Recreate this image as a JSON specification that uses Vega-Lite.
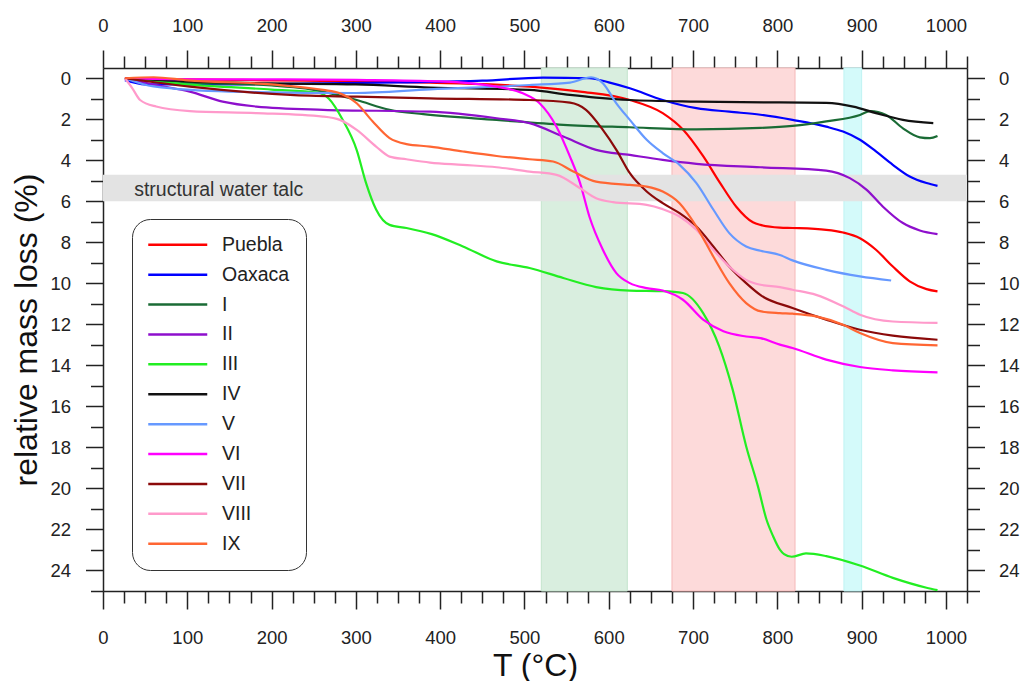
{
  "$schema": "https://vega.github.io/schema/vega-lite/v6.json",
  "width": 864,
  "height": 523,
  "autosize": {"type": "none"},
  "padding": {"left": 103, "top": 68, "right": 57, "bottom": 90},
  "background": "white",
  "config": {
    "view": {"stroke": null},
    "font": "Liberation Sans",
    "axis": {
      "domainColor": "#222", "domainWidth": 1.5, "tickColor": "#222", "tickWidth": 1.5,
      "labelFont": "Liberation Sans", "labelFontSize": 18.5, "labelColor": "#222",
      "grid": false, "zindex": 1, "labelFlush": false, "labelOverlap": false,
      "titleFont": "Liberation Sans", "titleFontWeight": "normal", "titleColor": "#111"
    }
  },
  "datasets": {
    "vbands": [
      {"band": "green", "start": 520, "end": 622},
      {"band": "red", "start": 675, "end": 821},
      {"band": "cyan", "start": 879, "end": 900}
    ],
    "hband": [{"band": "talc", "lo": 4.7, "hi": 6.0}],
    "note": [{"label": "structural water talc", "T": 37, "m": 5.72}],
    "tga": [
      {"s":"Puebla","T":26,"m":0},{"s":"Puebla","T":60,"m":0.05},{"s":"Puebla","T":100,"m":0.05},{"s":"Puebla","T":200,"m":0.1},{"s":"Puebla","T":300,"m":0.15},{"s":"Puebla","T":388,"m":0.22},{"s":"Puebla","T":460,"m":0.3},{"s":"Puebla","T":506,"m":0.41},{"s":"Puebla","T":566,"m":0.65},{"s":"Puebla","T":625,"m":1.06},{"s":"Puebla","T":664,"m":1.7},{"s":"Puebla","T":688,"m":2.5},{"s":"Puebla","T":712,"m":3.8},{"s":"Puebla","T":732,"m":5.1},{"s":"Puebla","T":751,"m":6.25},{"s":"Puebla","T":771,"m":7.02},{"s":"Puebla","T":780,"m":7.15},{"s":"Puebla","T":803,"m":7.28},{"s":"Puebla","T":818,"m":7.3},{"s":"Puebla","T":858,"m":7.39},{"s":"Puebla","T":878,"m":7.52},{"s":"Puebla","T":898,"m":7.8},{"s":"Puebla","T":917,"m":8.36},{"s":"Puebla","T":937,"m":9.18},{"s":"Puebla","T":957,"m":9.9},{"s":"Puebla","T":977,"m":10.28},{"s":"Puebla","T":990,"m":10.39},
      {"s":"Oaxaca","T":26,"m":0.1},{"s":"Oaxaca","T":50,"m":0.3},{"s":"Oaxaca","T":150,"m":0.3},{"s":"Oaxaca","T":250,"m":0.25},{"s":"Oaxaca","T":350,"m":0.2},{"s":"Oaxaca","T":450,"m":0.12},{"s":"Oaxaca","T":522,"m":-0.03},{"s":"Oaxaca","T":577,"m":0.0},{"s":"Oaxaca","T":600,"m":0.2},{"s":"Oaxaca","T":625,"m":0.49},{"s":"Oaxaca","T":664,"m":1.06},{"s":"Oaxaca","T":704,"m":1.46},{"s":"Oaxaca","T":743,"m":1.63},{"s":"Oaxaca","T":780,"m":1.78},{"s":"Oaxaca","T":818,"m":2.03},{"s":"Oaxaca","T":858,"m":2.36},{"s":"Oaxaca","T":878,"m":2.6},{"s":"Oaxaca","T":898,"m":3.0},{"s":"Oaxaca","T":917,"m":3.57},{"s":"Oaxaca","T":937,"m":4.22},{"s":"Oaxaca","T":957,"m":4.79},{"s":"Oaxaca","T":977,"m":5.11},{"s":"Oaxaca","T":990,"m":5.25},
      {"s":"I","T":26,"m":0},{"s":"I","T":100,"m":0.2},{"s":"I","T":200,"m":0.35},{"s":"I","T":240,"m":0.5},{"s":"I","T":261,"m":0.65},{"s":"I","T":301,"m":1.06},{"s":"I","T":340,"m":1.54},{"s":"I","T":380,"m":1.75},{"s":"I","T":467,"m":2.03},{"s":"I","T":546,"m":2.27},{"s":"I","T":625,"m":2.39},{"s":"I","T":704,"m":2.49},{"s":"I","T":780,"m":2.42},{"s":"I","T":818,"m":2.32},{"s":"I","T":858,"m":2.1},{"s":"I","T":898,"m":1.79},{"s":"I","T":910,"m":1.6},{"s":"I","T":929,"m":1.79},{"s":"I","T":949,"m":2.44},{"s":"I","T":969,"m":2.88},{"s":"I","T":981,"m":2.92},{"s":"I","T":990,"m":2.81},
      {"s":"II","T":26,"m":0},{"s":"II","T":63,"m":0.33},{"s":"II","T":103,"m":0.65},{"s":"II","T":142,"m":1.14},{"s":"II","T":182,"m":1.38},{"s":"II","T":261,"m":1.54},{"s":"II","T":388,"m":1.63},{"s":"II","T":467,"m":1.95},{"s":"II","T":506,"m":2.19},{"s":"II","T":546,"m":2.84},{"s":"II","T":585,"m":3.49},{"s":"II","T":625,"m":3.74},{"s":"II","T":664,"m":3.98},{"s":"II","T":704,"m":4.17},{"s":"II","T":780,"m":4.34},{"s":"II","T":858,"m":4.5},{"s":"II","T":886,"m":4.87},{"s":"II","T":906,"m":5.44},{"s":"II","T":925,"m":6.25},{"s":"II","T":949,"m":7.06},{"s":"II","T":969,"m":7.42},{"s":"II","T":990,"m":7.6},
      {"s":"III","T":26,"m":0},{"s":"III","T":100,"m":0.3},{"s":"III","T":200,"m":0.55},{"s":"III","T":255,"m":0.7},{"s":"III","T":268,"m":1.0},{"s":"III","T":284,"m":2.0},{"s":"III","T":301,"m":3.5},{"s":"III","T":312,"m":5.1},{"s":"III","T":324,"m":6.4},{"s":"III","T":340,"m":7.15},{"s":"III","T":360,"m":7.3},{"s":"III","T":390,"m":7.6},{"s":"III","T":427,"m":8.2},{"s":"III","T":467,"m":8.93},{"s":"III","T":506,"m":9.25},{"s":"III","T":546,"m":9.74},{"s":"III","T":585,"m":10.18},{"s":"III","T":625,"m":10.35},{"s":"III","T":664,"m":10.38},{"s":"III","T":688,"m":10.47},{"s":"III","T":712,"m":11.45},{"s":"III","T":731,"m":13.07},{"s":"III","T":747,"m":15.18},{"s":"III","T":763,"m":17.94},{"s":"III","T":777,"m":19.9},{"s":"III","T":787,"m":21.5},{"s":"III","T":795,"m":22.33},{"s":"III","T":803,"m":22.98},{"s":"III","T":808,"m":23.2},{"s":"III","T":817,"m":23.33},{"s":"III","T":834,"m":23.17},{"s":"III","T":858,"m":23.3},{"s":"III","T":898,"m":23.76},{"s":"III","T":937,"m":24.36},{"s":"III","T":977,"m":24.84},{"s":"III","T":990,"m":24.96},
      {"s":"IV","T":26,"m":0},{"s":"IV","T":100,"m":0.15},{"s":"IV","T":200,"m":0.25},{"s":"IV","T":300,"m":0.3},{"s":"IV","T":388,"m":0.45},{"s":"IV","T":506,"m":0.57},{"s":"IV","T":554,"m":0.81},{"s":"IV","T":585,"m":0.94},{"s":"IV","T":625,"m":1.06},{"s":"IV","T":704,"m":1.14},{"s":"IV","T":803,"m":1.18},{"s":"IV","T":858,"m":1.2},{"s":"IV","T":890,"m":1.38},{"s":"IV","T":917,"m":1.7},{"s":"IV","T":949,"m":2.03},{"s":"IV","T":985,"m":2.19},
      {"s":"V","T":26,"m":0},{"s":"V","T":60,"m":0.4},{"s":"V","T":150,"m":0.65},{"s":"V","T":300,"m":0.72},{"s":"V","T":388,"m":0.54},{"s":"V","T":506,"m":0.33},{"s":"V","T":554,"m":0.21},{"s":"V","T":579,"m":-0.05},{"s":"V","T":593,"m":0.24},{"s":"V","T":609,"m":1.22},{"s":"V","T":625,"m":2.03},{"s":"V","T":645,"m":3.0},{"s":"V","T":664,"m":3.65},{"s":"V","T":684,"m":4.22},{"s":"V","T":704,"m":5.11},{"s":"V","T":724,"m":6.4},{"s":"V","T":743,"m":7.55},{"s":"V","T":763,"m":8.2},{"s":"V","T":780,"m":8.41},{"s":"V","T":803,"m":8.62},{"s":"V","T":818,"m":8.88},{"s":"V","T":858,"m":9.34},{"s":"V","T":898,"m":9.66},{"s":"V","T":935,"m":9.86},
      {"s":"VI","T":26,"m":0},{"s":"VI","T":100,"m":0.05},{"s":"VI","T":200,"m":0.05},{"s":"VI","T":300,"m":0.08},{"s":"VI","T":400,"m":0.15},{"s":"VI","T":467,"m":0.41},{"s":"VI","T":498,"m":0.73},{"s":"VI","T":518,"m":1.22},{"s":"VI","T":538,"m":2.36},{"s":"VI","T":554,"m":3.82},{"s":"VI","T":566,"m":5.11},{"s":"VI","T":577,"m":6.74},{"s":"VI","T":593,"m":8.36},{"s":"VI","T":609,"m":9.5},{"s":"VI","T":625,"m":9.99},{"s":"VI","T":645,"m":10.23},{"s":"VI","T":664,"m":10.35},{"s":"VI","T":688,"m":10.8},{"s":"VI","T":712,"m":11.77},{"s":"VI","T":736,"m":12.34},{"s":"VI","T":763,"m":12.59},{"s":"VI","T":780,"m":12.67},{"s":"VI","T":803,"m":12.99},{"s":"VI","T":818,"m":13.15},{"s":"VI","T":858,"m":13.72},{"s":"VI","T":898,"m":14.08},{"s":"VI","T":937,"m":14.24},{"s":"VI","T":990,"m":14.34},
      {"s":"VII","T":26,"m":0},{"s":"VII","T":103,"m":0.41},{"s":"VII","T":222,"m":0.81},{"s":"VII","T":301,"m":0.9},{"s":"VII","T":388,"m":0.98},{"s":"VII","T":506,"m":1.06},{"s":"VII","T":554,"m":1.19},{"s":"VII","T":573,"m":1.54},{"s":"VII","T":593,"m":2.52},{"s":"VII","T":609,"m":3.49},{"s":"VII","T":625,"m":4.63},{"s":"VII","T":645,"m":5.52},{"s":"VII","T":664,"m":6.09},{"s":"VII","T":684,"m":6.58},{"s":"VII","T":704,"m":7.23},{"s":"VII","T":724,"m":8.2},{"s":"VII","T":743,"m":9.18},{"s":"VII","T":763,"m":9.99},{"s":"VII","T":781,"m":10.6},{"s":"VII","T":818,"m":11.2},{"s":"VII","T":858,"m":11.77},{"s":"VII","T":898,"m":12.26},{"s":"VII","T":937,"m":12.55},{"s":"VII","T":990,"m":12.75},
      {"s":"VIII","T":26,"m":0},{"s":"VIII","T":35,"m":0.5},{"s":"VIII","T":44,"m":1.06},{"s":"VIII","T":63,"m":1.38},{"s":"VIII","T":103,"m":1.6},{"s":"VIII","T":182,"m":1.7},{"s":"VIII","T":261,"m":1.87},{"s":"VIII","T":281,"m":2.03},{"s":"VIII","T":301,"m":2.52},{"s":"VIII","T":324,"m":3.33},{"s":"VIII","T":340,"m":3.82},{"s":"VIII","T":360,"m":3.95},{"s":"VIII","T":388,"m":4.11},{"s":"VIII","T":427,"m":4.22},{"s":"VIII","T":467,"m":4.34},{"s":"VIII","T":506,"m":4.55},{"s":"VIII","T":538,"m":4.71},{"s":"VIII","T":566,"m":5.36},{"s":"VIII","T":585,"m":5.85},{"s":"VIII","T":605,"m":6.04},{"s":"VIII","T":645,"m":6.17},{"s":"VIII","T":664,"m":6.38},{"s":"VIII","T":684,"m":6.74},{"s":"VIII","T":704,"m":7.39},{"s":"VIII","T":724,"m":8.36},{"s":"VIII","T":743,"m":9.18},{"s":"VIII","T":763,"m":9.83},{"s":"VIII","T":780,"m":10.07},{"s":"VIII","T":803,"m":10.18},{"s":"VIII","T":818,"m":10.31},{"s":"VIII","T":846,"m":10.56},{"s":"VIII","T":878,"m":11.12},{"s":"VIII","T":898,"m":11.53},{"s":"VIII","T":937,"m":11.86},{"s":"VIII","T":990,"m":11.93},
      {"s":"IX","T":26,"m":0},{"s":"IX","T":60,"m":-0.05},{"s":"IX","T":100,"m":0.1},{"s":"IX","T":200,"m":0.3},{"s":"IX","T":261,"m":0.57},{"s":"IX","T":281,"m":0.73},{"s":"IX","T":301,"m":1.22},{"s":"IX","T":320,"m":2.11},{"s":"IX","T":340,"m":2.92},{"s":"IX","T":360,"m":3.21},{"s":"IX","T":388,"m":3.33},{"s":"IX","T":427,"m":3.57},{"s":"IX","T":467,"m":3.79},{"s":"IX","T":506,"m":3.95},{"s":"IX","T":534,"m":4.06},{"s":"IX","T":558,"m":4.55},{"s":"IX","T":585,"m":5.04},{"s":"IX","T":625,"m":5.2},{"s":"IX","T":645,"m":5.28},{"s":"IX","T":664,"m":5.52},{"s":"IX","T":684,"m":6.09},{"s":"IX","T":704,"m":7.23},{"s":"IX","T":724,"m":8.69},{"s":"IX","T":743,"m":9.99},{"s":"IX","T":763,"m":10.96},{"s":"IX","T":781,"m":11.37},{"s":"IX","T":803,"m":11.45},{"s":"IX","T":818,"m":11.48},{"s":"IX","T":846,"m":11.61},{"s":"IX","T":878,"m":12.02},{"s":"IX","T":898,"m":12.42},{"s":"IX","T":937,"m":12.91},{"s":"IX","T":990,"m":13.02}
    ]
  },
  "resolve": {"axis": {"x": "independent", "y": "independent"}},
  "layer": [
    {
      "data": {"name": "vbands"},
      "mark": {"type": "rect", "strokeWidth": 1},
      "encoding": {
        "x": {
          "field": "start", "type": "quantitative",
          "scale": {"domain": [0, 1025], "nice": false, "zero": false},
          "axis": {
            "orient": "top", "title": null,
            "values": [0,25,50,75,100,125,150,175,200,225,250,275,300,325,350,375,400,425,450,475,500,525,550,575,600,625,650,675,700,725,750,775,800,825,850,875,900,925,950,975,1000,1025],
            "tickSize": {"condition": {"test": "datum.value % 100 === 0", "value": 18}, "value": 12},
            "labelExpr": "datum.value % 100 === 0 ? datum.label : ''",
            "format": "d", "labelPadding": 15
          }
        },
        "x2": {"field": "end"},
        "fill": {
          "field": "band", "type": "nominal",
          "scale": {"domain": ["green", "red", "cyan"], "range": ["#d9eedf", "#fddada", "#d4fafa"]},
          "legend": null
        },
        "stroke": {
          "field": "band", "type": "nominal",
          "scale": {"domain": ["green", "red", "cyan"], "range": ["#c4e4cd", "#f5b9b9", "#bff3f3"]},
          "legend": null
        }
      }
    },
    {
      "data": {"name": "hband"},
      "mark": {"type": "rect", "color": "#e3e3e3"},
      "encoding": {
        "y": {
          "field": "lo", "type": "quantitative",
          "scale": {"domain": [-0.5, 25], "reverse": true, "nice": false, "zero": false},
          "axis": {
            "orient": "right", "title": null,
            "values": [0,1,2,3,4,5,6,7,8,9,10,11,12,13,14,15,16,17,18,19,20,21,22,23,24,25],
            "tickSize": {"condition": {"test": "datum.value % 2 === 0", "value": 17.5}, "value": 12.5},
            "labelExpr": "datum.value % 2 === 0 ? datum.label : ''",
            "labelPadding": 14
          }
        },
        "y2": {"field": "hi"}
      }
    },
    {
      "data": {"name": "note"},
      "mark": {"type": "text", "align": "left", "baseline": "alphabetic", "fontSize": 19.5, "font": "Liberation Sans", "color": "#333"},
      "encoding": {
        "x": {"field": "T", "type": "quantitative", "scale": {"domain": [0, 1025], "nice": false, "zero": false}, "axis": null},
        "y": {"field": "m", "type": "quantitative", "scale": {"domain": [-0.5, 25], "reverse": true, "nice": false, "zero": false}, "axis": null},
        "text": {"field": "label"}
      }
    },
    {
      "data": {"name": "tga"},
      "mark": {"type": "line", "strokeWidth": 2.2, "interpolate": "monotone"},
      "encoding": {
        "x": {
          "field": "T", "type": "quantitative",
          "scale": {"domain": [0, 1025], "nice": false, "zero": false},
          "axis": {
            "orient": "bottom", "title": "T (°C)", "titleFontSize": 32,
            "titleBaseline": "alphabetic", "titleY": 84,
            "values": [0,25,50,75,100,125,150,175,200,225,250,275,300,325,350,375,400,425,450,475,500,525,550,575,600,625,650,675,700,725,750,775,800,825,850,875,900,925,950,975,1000,1025],
            "tickSize": {"condition": {"test": "datum.value % 100 === 0", "value": 18}, "value": 12},
            "labelExpr": "datum.value % 100 === 0 ? datum.label : ''",
            "format": "d", "labelPadding": 19
          }
        },
        "y": {
          "field": "m", "type": "quantitative",
          "scale": {"domain": [-0.5, 25], "reverse": true, "nice": false, "zero": false},
          "axis": {
            "orient": "left", "title": "relative mass loss (%)", "titleFontSize": 32,
            "titleBaseline": "alphabetic", "titleX": -67, "titleAngle": -90, "titleAlign": "center",
            "values": [0,1,2,3,4,5,6,7,8,9,10,11,12,13,14,15,16,17,18,19,20,21,22,23,24,25],
            "tickSize": {"condition": {"test": "datum.value % 2 === 0", "value": 17.5}, "value": 12.5},
            "labelExpr": "datum.value % 2 === 0 ? datum.label : ''",
            "labelPadding": 15
          }
        },
        "color": {
          "field": "s", "type": "nominal",
          "scale": {
            "domain": ["Puebla", "Oaxaca", "I", "II", "III", "IV", "V", "VI", "VII", "VIII", "IX"],
            "range": ["#ff0000", "#0000ff", "#1a6b35", "#8e0fcc", "#22ee22", "#111111", "#6699ff", "#ff00ff", "#8b0a0a", "#ff9acb", "#ff6633"]
          },
          "legend": {
            "orient": "none", "legendX": 29, "legendY": 151, "title": null,
            "symbolType": "M-4,0H4", "symbolSize": 217.6, "symbolStrokeWidth": 2.5, "symbolOffset": 20,
            "labelFont": "Liberation Sans", "labelFontSize": 19.5, "labelColor": "#222",
            "rowPadding": 8.9, "labelOffset": 34.5, "padding": 16,
            "strokeColor": "#333", "fillColor": "white", "cornerRadius": 18
          }
        }
      }
    }
  ]
}
